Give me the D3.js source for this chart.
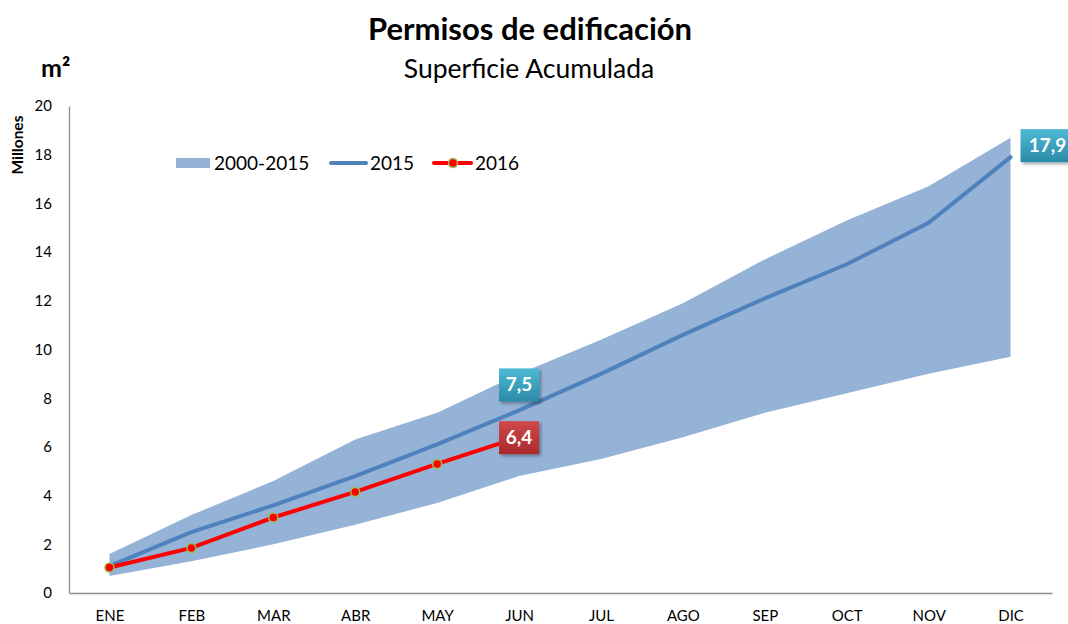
<!DOCTYPE html>
<html>
<head>
<meta charset="utf-8">
<script src="https://cdn.jsdelivr.net/npm/d3@7"></script>
<style>
  body { margin: 0; background: #fff; }
  svg { font-family: Lato, 'Open Sans', sans-serif; }
</style>
</head>
<body>
<div id="chart"></div>
<script>
(function() {
  'use strict';

  // months and values (millones de m2)
  var months = ['ENE', 'FEB', 'MAR', 'ABR', 'MAY', 'JUN', 'JUL', 'AGO', 'SEP', 'OCT', 'NOV', 'DIC'];
  var rangeLow = [0.7, 1.3, 2.0, 2.8, 3.7, 4.8, 5.5, 6.4, 7.4, 8.2, 9.0, 9.7];
  var rangeHigh = [1.6, 3.2, 4.6, 6.3, 7.4, 9.0, 10.4, 11.9, 13.7, 15.3, 16.7, 18.7];
  var serie2015 = [1.1, 2.5, 3.6, 4.8, 6.1, 7.5, 9.0, 10.6, 12.1, 13.5, 15.2, 17.9];
  var serie2016 = [1.05, 1.85, 3.1, 4.15, 5.3, 6.4];
  var yTicks = [0, 2, 4, 6, 8, 10, 12, 14, 16, 18, 20];

  var width = 1068,
      height = 624,
      margin = { top: 106, right: 16, bottom: 31, left: 69 };

  var svg = d3.select('#chart')
    .append('svg')
    .attr('width', width)
    .attr('height', height);

  var defs = svg.append('defs');
  function grad(id, c1, c2) {
    var g = defs.append('linearGradient').attr('id', id)
      .attr('x1', 0).attr('y1', 0).attr('x2', 0).attr('y2', 1);
    g.append('stop').attr('offset', '0%').attr('stop-color', c1);
    g.append('stop').attr('offset', '100%').attr('stop-color', c2);
  }
  grad('gBlue', '#4fb9d4', '#2a8aa8');
  grad('gRed', '#d0484a', '#a82a2c');
  var shadow = defs.append('filter').attr('id', 'shadow')
    .attr('x', '-20%').attr('y', '-20%').attr('width', '150%').attr('height', '150%');
  shadow.append('feDropShadow').attr('dx', 2).attr('dy', 2)
    .attr('stdDeviation', 1.5).attr('flood-color', '#000').attr('flood-opacity', 0.35);

  var x = d3.scaleBand()
    .domain(months)
    .range([margin.left, width - margin.right])
    .paddingInner(0);

  var y = d3.scaleLinear()
    .domain([0, 20])
    .range([height - margin.bottom, margin.top]);

  function cx(i) { return x(months[i]) + x.bandwidth() / 2 - 0.5; }

  /* ------- AXES ------- */
  var yAxis = svg.append('g')
    .attr('transform', 'translate(' + margin.left + ',0)')
    .call(d3.axisLeft(y).tickValues(yTicks).tickSize(0).tickPadding(17));
  yAxis.select('.domain').attr('stroke', '#8c8c8c').attr('stroke-width', 1.3);
  yAxis.selectAll('text').attr('font-size', 15).attr('fill', '#000')
    .attr('font-family', 'Lato, sans-serif');

  var xAxis = svg.append('g')
    .attr('transform', 'translate(0,' + (height - margin.bottom) + ')')
    .call(d3.axisBottom(x).tickSize(0).tickPadding(17));
  xAxis.select('.domain').attr('stroke', '#8c8c8c').attr('stroke-width', 1.3);
  xAxis.selectAll('text').attr('font-size', 15).attr('fill', '#000')
    .attr('font-family', 'Lato, sans-serif');

  /* ------- BAND 2000-2015 ------- */
  var area = d3.area()
    .x(function(d, i) { return cx(i); })
    .y0(function(d, i) { return y(rangeLow[i]); })
    .y1(function(d, i) { return y(rangeHigh[i]); });

  svg.append('path')
    .datum(months)
    .attr('d', area)
    .attr('fill', '#95b3d7');

  /* ------- LINES ------- */
  var line = d3.line()
    .x(function(d, i) { return cx(i); })
    .y(function(d) { return y(d); });

  svg.append('path')
    .datum(serie2015)
    .attr('d', line)
    .attr('fill', 'none')
    .attr('stroke', '#4f81bd')
    .attr('stroke-width', 4)
    .attr('stroke-linecap', 'round');

  svg.append('path')
    .datum(serie2016)
    .attr('d', line)
    .attr('fill', 'none')
    .attr('stroke', '#ff0000')
    .attr('stroke-width', 4)
    .attr('stroke-linecap', 'round');

  svg.selectAll('circle.m2016')
    .data(serie2016)
    .enter()
    .append('circle')
    .attr('class', 'm2016')
    .attr('cx', function(d, i) { return cx(i); })
    .attr('cy', function(d) { return y(d); })
    .attr('r', 4.5)
    .attr('fill', '#ff0000')
    .attr('stroke', '#9bbb59')
    .attr('stroke-width', 1.5);

  /* ------- VALUE LABELS ------- */
  function valueLabel(px, py, w, txt, fill) {
    var g = svg.append('g').attr('transform', 'translate(' + px + ',' + py + ')');
    g.append('rect')
      .attr('x', 0).attr('y', 0)
      .attr('width', w).attr('height', 33)
      .attr('fill', fill)
      .attr('filter', 'url(#shadow)');
    g.append('text')
      .attr('x', w / 2).attr('y', 23)
      .attr('text-anchor', 'middle')
      .attr('font-size', 19)
      .attr('font-weight', 'bold')
      .attr('fill', '#fff')
      .text(txt);
  }
  var fmt = function(v) { return String(v).replace('.', ','); };
  valueLabel(cx(5) - 20, y(serie2015[5]) - 42, 40, fmt(serie2015[5]), 'url(#gBlue)');
  valueLabel(cx(5) - 20, y(serie2016[5]) - 16, 40, fmt(serie2016[5]), 'url(#gRed)');
  valueLabel(cx(11) + 10, y(serie2015[11]) - 28, 54, fmt(serie2015[11]), 'url(#gBlue)');

  /* ------- TITLES ------- */
  svg.append('text')
    .attr('x', 530).attr('y', 40)
    .attr('text-anchor', 'middle')
    .attr('font-size', 31)
    .attr('font-weight', 'bold')
    .text('Permisos de edificación');

  svg.append('text')
    .attr('x', 529).attr('y', 78)
    .attr('text-anchor', 'middle')
    .attr('font-size', 26.5)
    .text('Superficie Acumulada');

  svg.append('text')
    .attr('x', 41).attr('y', 77)
    .attr('font-size', 25)
    .attr('font-weight', 'bold')
    .text('m²');

  svg.append('text')
    .attr('transform', 'translate(23,145) rotate(-90)')
    .attr('text-anchor', 'middle')
    .attr('font-size', 15.5)
    .attr('font-weight', 'bold')
    .text('Millones');

  /* ------- LEGEND ------- */
  var legend = svg.append('g').attr('font-size', 19);
  legend.append('rect')
    .attr('x', 176).attr('y', 158).attr('width', 34).attr('height', 10)
    .attr('fill', '#95b3d7');
  legend.append('text').attr('x', 214).attr('y', 170).text('2000-2015');

  legend.append('line')
    .attr('x1', 331).attr('x2', 366).attr('y1', 163).attr('y2', 163)
    .attr('stroke', '#4f81bd').attr('stroke-width', 4).attr('stroke-linecap', 'round');
  legend.append('text').attr('x', 370).attr('y', 170).text('2015');

  legend.append('line')
    .attr('x1', 434).attr('x2', 471).attr('y1', 163).attr('y2', 163)
    .attr('stroke', '#ff0000').attr('stroke-width', 4).attr('stroke-linecap', 'round');
  legend.append('circle')
    .attr('cx', 453).attr('cy', 163).attr('r', 4.5)
    .attr('fill', '#ff0000').attr('stroke', '#9bbb59').attr('stroke-width', 1.5);
  legend.append('text').attr('x', 475).attr('y', 170).text('2016');
})();
</script>
</body>
</html>
